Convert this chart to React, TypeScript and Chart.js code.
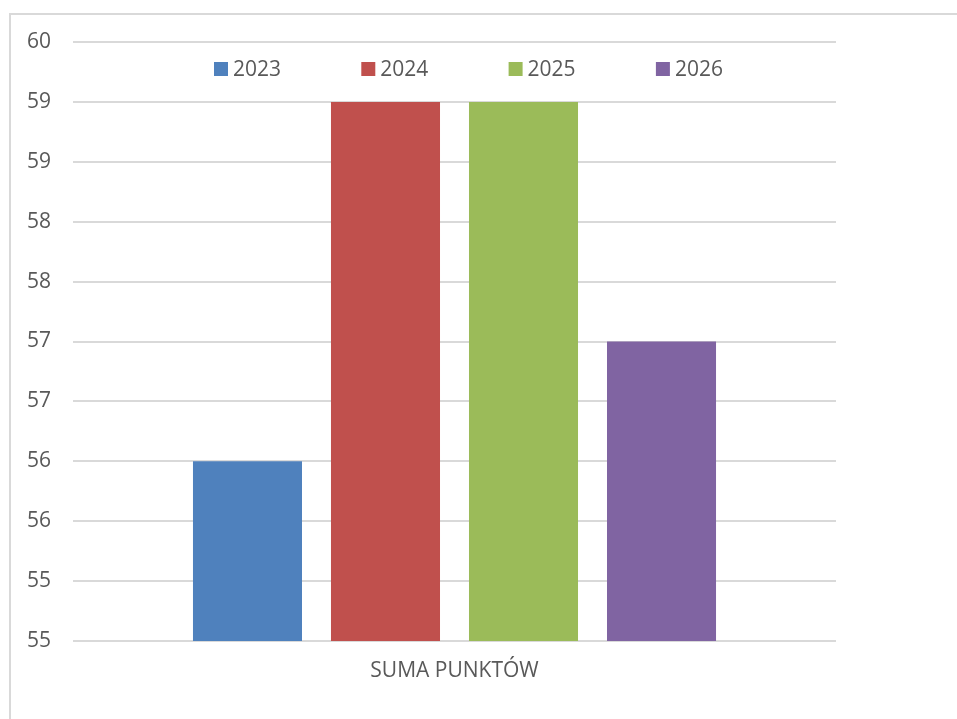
import React, { useEffect, useRef } from "react";
import { Chart, registerables } from "chart.js";

Chart.register(...registerables);

const categories = ["SUMA PUNKTÓW"];
const seriesNames = ["2023", "2024", "2025", "2026"];
const seriesValues = [56.5, 59.5, 59.5, 57.5];
const seriesColors = ["#4F81BD", "#C0504D", "#9BBB59", "#8064A2"];
const yTickLabels = ["55", "55", "56", "56", "57", "57", "58", "58", "59", "59", "60"];

const FONT = "'Open Sans', 'Noto Sans', sans-serif";
const TEXT = "#595959";

const frameAndLegend = {
  id: "frameAndLegend",
  beforeDraw(chart: any) {
    const ctx = chart.ctx;
    ctx.save();
    ctx.fillStyle = "#ffffff";
    ctx.fillRect(0, 0, chart.width, chart.height);
    ctx.strokeStyle = "#d9d9d9";
    ctx.lineWidth = 2;
    ctx.beginPath();
    ctx.moveTo(10, chart.height);
    ctx.lineTo(10, 14);
    ctx.lineTo(chart.width, 14);
    ctx.stroke();
    ctx.restore();
  },
  afterDraw(chart: any) {
    const ctx = chart.ctx;
    ctx.save();
    const startX = 214;
    const pitch = 147.3;
    const boxY = 62;
    const box = 14;
    ctx.font = `21px ${FONT}`;
    ctx.textBaseline = "middle";
    ctx.textAlign = "left";
    chart.data.datasets.forEach((ds: any, i: number) => {
      const x = startX + i * pitch;
      ctx.fillStyle = ds.backgroundColor;
      ctx.fillRect(x, boxY, box, box);
      ctx.fillStyle = TEXT;
      ctx.fillText(ds.label, x + box + 5, boxY + box / 2 + 1);
    });
    ctx.restore();
  },
};

export default function App() {
  const ref = useRef<HTMLCanvasElement | null>(null);
  useEffect(() => {
    document.body.style.margin = "0";
    document.body.style.overflow = "hidden";
    const chart = new Chart(ref.current as HTMLCanvasElement, {
      type: "bar",
      data: {
        labels: categories,
        datasets: seriesNames.map((name, i) => ({
          label: name,
          data: [seriesValues[i]],
          backgroundColor: seriesColors[i],
          borderWidth: 0,
          categoryPercentage: 0.7235,
          barPercentage: 0.79,
        })),
      },
      options: {
        animation: false,
        responsive: false,
        maintainAspectRatio: false,
        layout: { padding: { top: 42, right: 121, left: 0, bottom: 0 } },
        plugins: { legend: { display: false }, tooltip: { enabled: false } },
        scales: {
          x: {
            grid: { display: false, drawTicks: false },
            border: { display: false },
            ticks: { color: TEXT, font: { family: FONT, size: 21 }, padding: 17 },
            afterFit(scale: any) {
              scale.height = 78;
            },
          },
          y: {
            min: 55,
            max: 60,
            grid: { color: "#d9d9d9", lineWidth: 2, drawTicks: false },
            border: { display: false },
            ticks: {
              stepSize: 0.5,
              color: TEXT,
              font: { family: FONT, size: 21 },
              padding: 22,
              callback: (_v: any, idx: number) => yTickLabels[idx],
            },
            afterFit(scale: any) {
              scale.width = 73;
            },
          },
        },
      },
      plugins: [frameAndLegend],
    });
    return () => chart.destroy();
  }, []);
  return (
    <div style={{ width: 957, height: 719 }}>
      <canvas ref={ref} width={957} height={719} style={{ display: "block" }} />
    </div>
  );
}
